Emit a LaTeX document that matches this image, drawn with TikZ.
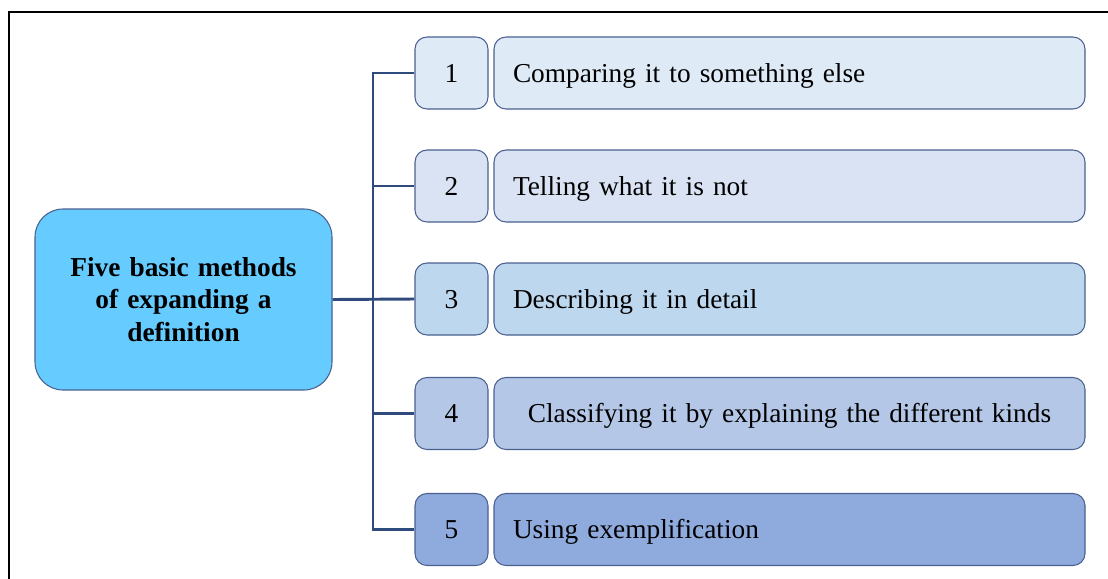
\documentclass[tikz,border=0pt]{standalone}
\usepackage{fontspec}
\setmainfont{Liberation Serif}
\begin{document}
\begin{tikzpicture}[x=0.75pt,y=-0.75pt,
  every node/.style={font=\fontsize{20.5}{24.6}\selectfont},
  boxline/.style={draw=boxedge,line width=0.8pt},
  numbox/.style={boxline,rounded corners=9pt,minimum width=54.75pt,minimum height=54pt,inner sep=0pt,text height=17.5pt,text depth=4pt},
  textbox/.style={boxline,rounded corners=9pt,minimum height=54pt,text width=414.75pt,inner xsep=14.25pt,inner ysep=0pt,align=left,text height=17.5pt,text depth=4pt},
  mainbox/.style={boxline,rounded corners=21pt,fill=mainfill,minimum width=222.75pt,minimum height=135.75pt,text width=200pt,align=center,inner sep=0pt,font=\fontsize{20.5}{24.6}\selectfont\bfseries},
  conn/.style={draw=connblue,line width=2.2pt}]
\definecolor{boxedge}{HTML}{4A6190}
\definecolor{connblue}{HTML}{2F4A7C}
\definecolor{mainfill}{HTML}{66CCFF}
\definecolor{fillA}{HTML}{DEEAF6}
\definecolor{fillB}{HTML}{DAE3F3}
\definecolor{fillC}{HTML}{BDD7EE}
\definecolor{fillD}{HTML}{B4C7E7}
\definecolor{fillE}{HTML}{8FAADC}

\useasboundingbox (0,0) rectangle (1108,579);

% outer frame (top and left edges)
\draw[line width=1.6pt] (9,579) -- (9,12) -- (1108,12);

% central topic
\node[mainbox] (main) at (183.5,299.5) {Five basic methods\\ of expanding a\\ definition};

% numbered items
\node[numbox,fill=fillA] (n1) at (451.5,73) {1};
\node[numbox,fill=fillB] (n2) at (451.5,186) {2};
\node[numbox,fill=fillC] (n3) at (451.5,299) {3};
\node[numbox,fill=fillD] (n4) at (451.5,413.5) {4};
\node[numbox,fill=fillE] (n5) at (451.5,529.5) {5};

\node[textbox,fill=fillA] (t1) at (789.5,73) {Comparing it to something else};
\node[textbox,fill=fillB] (t2) at (789.5,186) {Telling what it is not};
\node[textbox,fill=fillC] (t3) at (789.5,299) {Describing it in detail};
\node[textbox,fill=fillD,align=center] (t4) at (789.5,413.5) {Classifying it by explaining the different kinds};
\node[textbox,fill=fillE] (t5) at (789.5,529.5) {Using exemplification};

% bracket connectors
\coordinate (trunk) at (373,299);
\draw[conn] (n1.west) -- (n1.west -| trunk) -- (n5.west -| trunk) -- (n5.west);
\draw[conn] (n2.west -| trunk) -- (n2.west);
\draw[conn] (n4.west -| trunk) -- (n4.west);
\draw[conn] (main.east) -- (n3.west);
\end{tikzpicture}
\end{document}
